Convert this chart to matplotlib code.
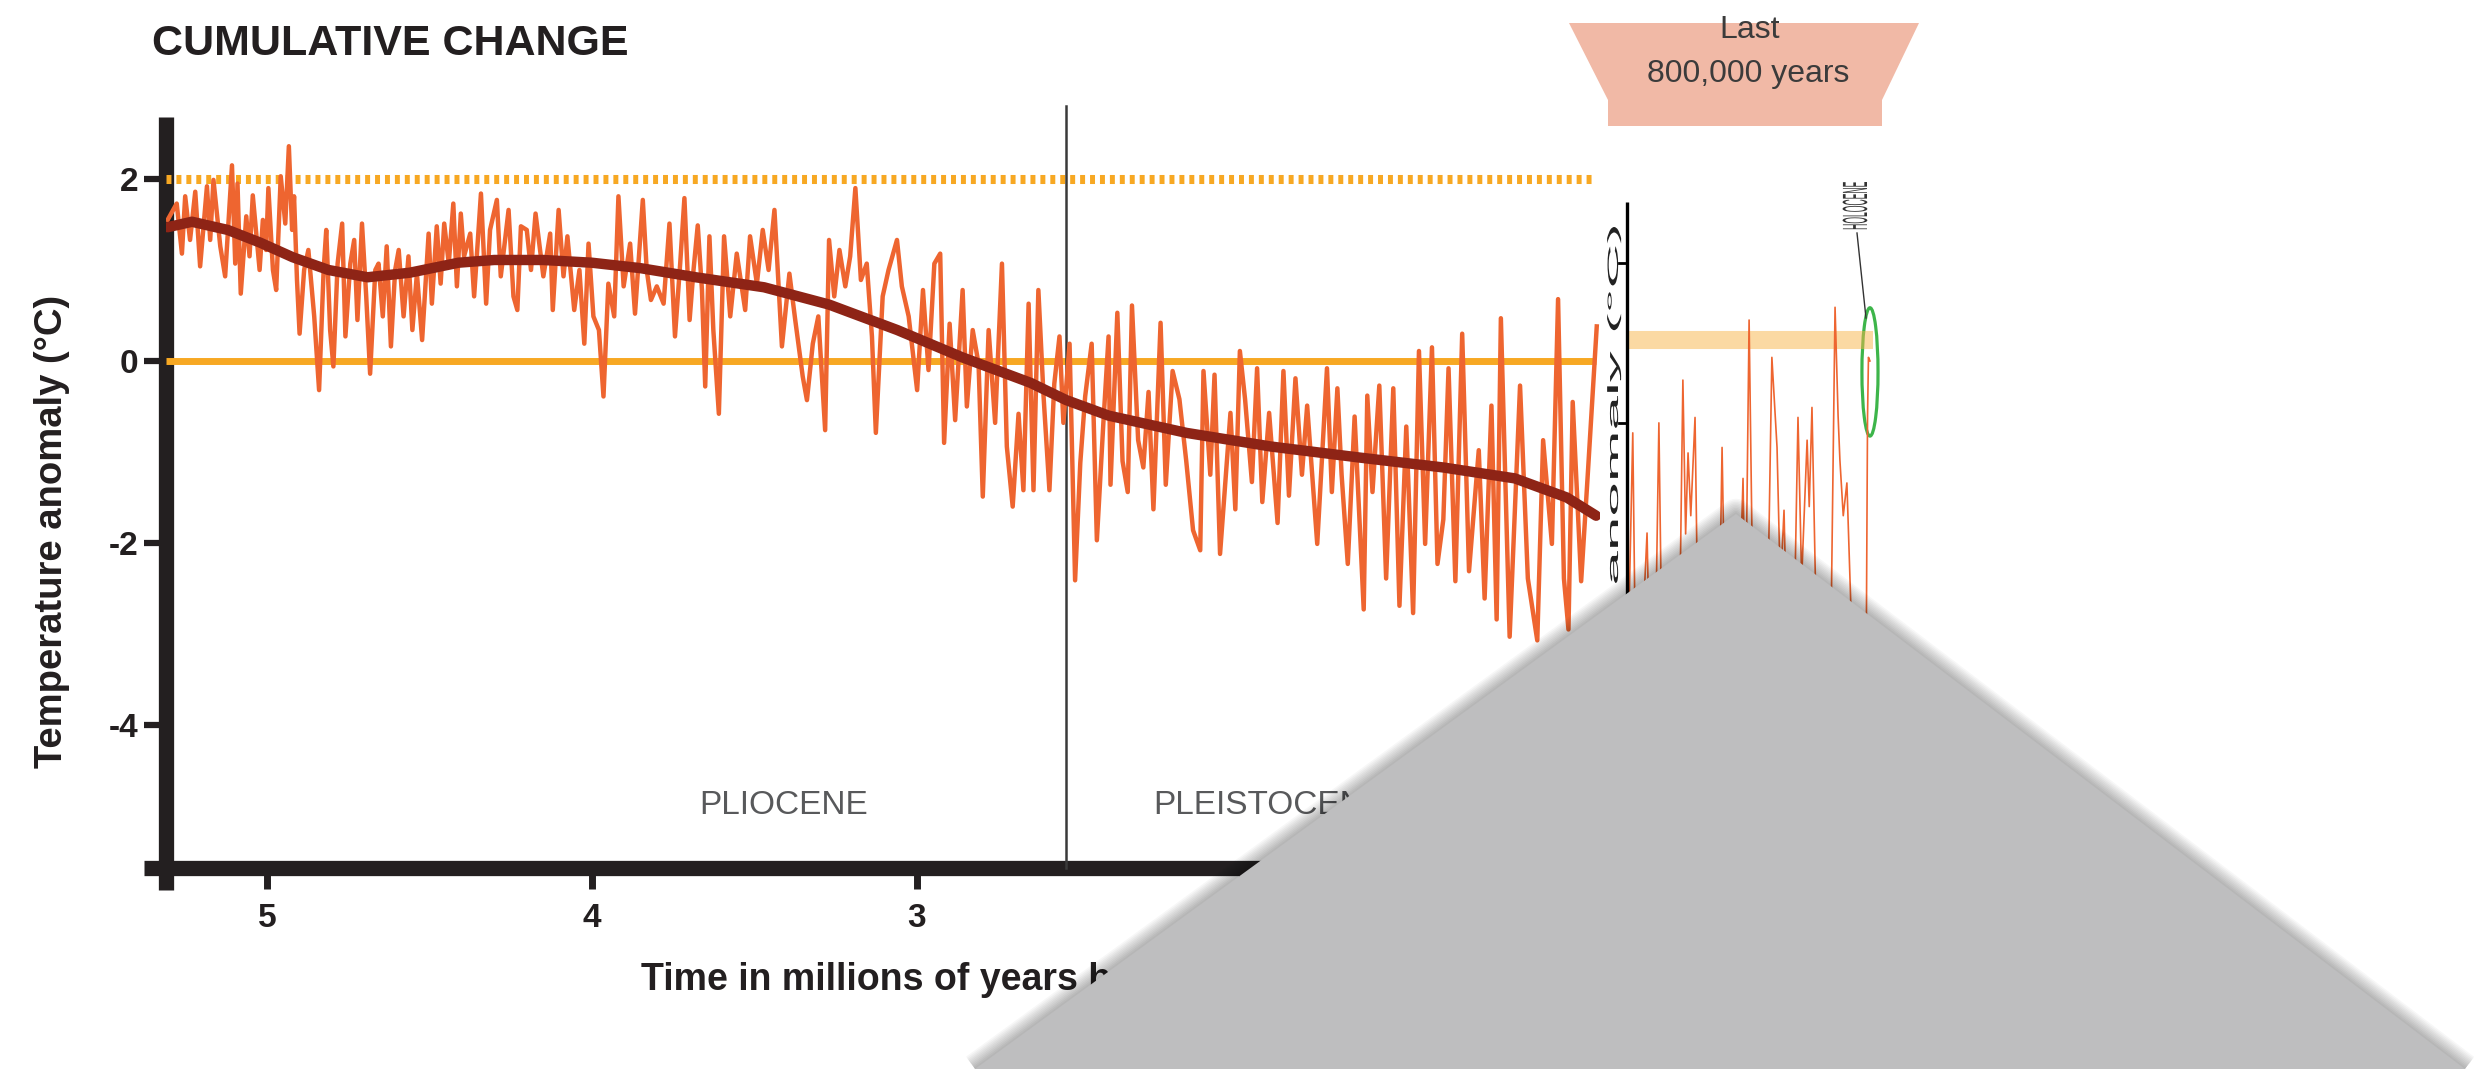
import matplotlib
matplotlib.use("Agg")
import matplotlib.pyplot as plt
from matplotlib.lines import Line2D
from matplotlib.patches import Polygon, Ellipse, PathPatch, Rectangle
from matplotlib.textpath import TextPath
from matplotlib.font_manager import FontProperties
from matplotlib.transforms import Affine2D

plt.rcParams['font.family'] = ['Liberation Sans', 'DejaVu Sans']
plt.rcParams['axes.unicode_minus'] = False

# ---- values ----
# noisy record, early Pliocene part (age in Myr, anomaly in degC)
age_early = [5.305, 5.277, 5.261, 5.251, 5.236, 5.220, 5.205, 5.184, 5.174, 5.164,
             5.143, 5.128, 5.107, 5.097, 5.090, 5.080, 5.063, 5.053, 5.043, 5.022,
             5.012, 5.002, 4.995, 4.981, 4.971, 4.957, 4.943, 4.932, 4.922, 4.916,
             4.907, 4.899, 4.885, 4.872, 4.854, 4.839, 4.825, 4.817, 4.805, 4.795,
             4.782, 4.768, 4.758, 4.743, 4.731, 4.721, 4.707, 4.694, 4.682, 4.666,
             4.656, 4.643, 4.631, 4.618, 4.605, 4.594, 4.579, 4.564, 4.552, 4.538,
             4.522, 4.502, 4.492, 4.477, 4.465, 4.454, 4.440, 4.426, 4.415, 4.403,
             4.393, 4.374, 4.362, 4.341, 4.325, 4.313, 4.292, 4.280, 4.256, 4.241,
             4.229, 4.218, 4.200, 4.187, 4.173, 4.149, 4.128, 4.120, 4.102, 4.087,
             4.075, 4.054, 4.038, 4.023, 4.010, 3.995, 3.978, 3.964, 3.949, 3.931,
             3.918, 3.902]
temp_early = [1.55, 1.73, 1.18, 1.81, 1.33, 1.86, 1.04, 1.92, 1.33, 1.99,
              1.26, 0.93, 2.15, 1.07, 1.95, 0.74, 1.59, 1.15, 1.82, 1.00,
              1.55, 1.22, 1.90, 1.00, 0.78, 2.03, 1.51, 2.36, 1.44, 1.81,
              0.89, 0.30, 1.00, 1.22, 0.49, -0.32, 1.00, 1.44, 0.34, -0.06,
              1.07, 1.51, 0.27, 1.07, 1.33, 0.45, 1.51, 0.71, -0.14, 1.00,
              1.07, 0.49, 1.26, 0.16, 1.00, 1.22, 0.49, 1.15, 0.34, 0.96,
              0.23, 1.40, 0.63, 1.48, 0.85, 1.51, 1.07, 1.73, 0.82, 1.62,
              1.15, 1.40, 0.71, 1.84, 0.63, 1.44, 1.77, 0.93, 1.66, 0.71,
              0.56, 1.48, 1.44, 1.00, 1.62, 0.93, 1.40, 0.56, 1.66, 0.93,
              1.37, 0.56, 1.00, 0.19, 1.29, 0.49, 0.34, -0.39, 0.85, 0.49,
              1.81, 0.82]
# late Pliocene to the epoch boundary
age_mid = [3.882, 3.867, 3.843, 3.831, 3.818, 3.800, 3.779, 3.761, 3.744, 3.728,
           3.715, 3.699, 3.687, 3.674, 3.661, 3.651, 3.638, 3.626, 3.609, 3.593,
           3.574, 3.554, 3.528, 3.513, 3.492, 3.474, 3.456, 3.438, 3.415, 3.392,
           3.374, 3.351, 3.338, 3.320, 3.303, 3.282, 3.270, 3.254, 3.238, 3.220,
           3.205, 3.189, 3.172, 3.154, 3.138, 3.126, 3.105, 3.087, 3.061, 3.046,
           3.025, 2.999, 2.981, 2.964, 2.946, 2.928, 2.916, 2.899, 2.882, 2.859,
           2.846, 2.828, 2.810, 2.797, 2.779, 2.759, 2.738, 2.723, 2.705, 2.687,
           2.672, 2.656, 2.641, 2.626, 2.610, 2.592, 2.577, 2.561, 2.549, 2.530,
           2.513, 2.497, 2.482, 2.462, 2.446, 2.426, 2.410]
temp_mid = [1.29, 0.52, 1.77, 1.00, 0.67, 0.82, 0.63, 1.51, 0.27, 1.07,
            1.79, 0.45, 1.00, 1.49, 0.78, -0.28, 1.37, 0.34, -0.58, 1.37,
            0.49, 1.18, 0.56, 1.37, 0.85, 1.44, 1.00, 1.66, 0.16, 0.96,
            0.45, -0.17, -0.43, 0.19, 0.49, -0.76, 1.33, 0.71, 1.22, 0.82,
            1.15, 1.90, 0.89, 1.07, 0.27, -0.79, 0.71, 1.00, 1.33, 0.82,
            0.49, -0.32, 0.78, -0.10, 1.07, 1.18, -0.90, 0.41, -0.65, 0.78,
            -0.50, 0.34, -0.03, -1.49, 0.34, -0.68, 1.07, -0.94, -1.60, -0.58,
            -1.42, 0.63, -1.42, 0.78, -0.39, -1.42, -0.25, 0.27, -0.68, 0.19,
            -2.41, -1.12, -0.39, 0.19, -1.97, -0.68, 0.27]
# Pleistocene part
age_late = [2.404, 2.383, 2.367, 2.351, 2.338, 2.319, 2.303, 2.287, 2.272, 2.250,
            2.234, 2.213, 2.192, 2.171, 2.150, 2.128, 2.118, 2.097, 2.084, 2.067,
            2.049, 2.035, 2.020, 2.006, 1.990, 1.969, 1.953, 1.937, 1.916, 1.890,
            1.872, 1.855, 1.835, 1.815, 1.799, 1.768, 1.738, 1.723, 1.706, 1.693,
            1.674, 1.653, 1.625, 1.614, 1.598, 1.577, 1.556, 1.534, 1.515, 1.494,
            1.473, 1.455, 1.436, 1.415, 1.398, 1.380, 1.364, 1.343, 1.322, 1.301,
            1.271, 1.253, 1.232, 1.216, 1.203, 1.176, 1.144, 1.120, 1.091, 1.073,
            1.046, 1.027, 1.009, 0.995, 0.982, 0.956, 0.935, 0.908]
temp_late = [-1.36, 0.53, -1.10, -1.44, 0.61, -0.87, -1.17, -0.34, -1.63, 0.42,
             -1.36, -0.11, -0.42, -1.10, -1.86, -2.08, -0.11, -1.25, -0.15, -2.12,
             -1.25, -0.57, -1.63, 0.11, -0.42, -1.33, -0.08, -1.55, -0.57, -1.78,
             -0.11, -1.48, -0.19, -1.25, -0.49, -2.01, -0.08, -1.44, -0.30, -1.25,
             -2.23, -0.61, -2.73, -0.38, -1.44, -0.27, -2.39, -0.30, -2.69, -0.72,
             -2.77, 0.11, -2.01, 0.15, -2.23, -1.74, -0.08, -2.42, 0.30, -2.31,
             -0.98, -2.61, -0.49, -2.84, 0.47, -3.03, -0.27, -2.39, -3.07, -0.87,
             -2.01, 0.68, -2.39, -2.95, -0.45, -2.42, -1.21, 0.38]

# smoothed trend
smooth_age = [5.305, 5.23, 5.12, 5.02, 4.92, 4.81, 4.69, 4.56, 4.41, 4.30,
              4.15, 4.00, 3.85, 3.68, 3.47, 3.27, 3.06, 2.86, 2.65, 2.54,
              2.41, 2.17, 1.91, 1.64, 1.38, 1.16, 1.00, 0.91]
smooth_temp = [1.47, 1.53, 1.44, 1.30, 1.14, 1.00, 0.92, 0.97, 1.08, 1.11,
               1.11, 1.08, 1.02, 0.92, 0.81, 0.62, 0.34, 0.04, -0.24, -0.43,
               -0.60, -0.79, -0.94, -1.06, -1.17, -1.29, -1.50, -1.70]

# last 800,000 years (kyr before present)
inset_ka = [800, 781, 770, 752, 734, 722, 708, 695, 685, 670,
            650, 630, 616, 607, 599, 590, 576, 565, 545, 520,
            500, 487, 475, 455, 435, 418, 410, 398, 385, 365,
            340, 323, 306, 295, 283, 270, 250, 237, 225, 207,
            200, 191, 175, 150, 130, 115, 105, 99, 88, 76,
            60, 40, 20, 12, 8, 5, 0]
inset_temp = [-3.8, -0.79, -3.9, -3.2, -1.89, -3.9, -3.5, -0.68, -3.2, -3.9,
              -3.4, -3.7, -0.21, -1.9, -1.01, -1.7, -0.62, -3.3, -3.9, -3.1,
              -3.7, -0.95, -3.3, -4.0, -3.3, -1.29, -3.0, 0.45, -2.8, -3.9,
              -3.4, 0.04, -0.95, -2.5, -1.64, -3.6, -3.0, -0.62, -2.4, -0.87,
              -1.6, -0.51, -3.2, -3.9, -3.4, 0.59, -0.6, -1.09, -1.7, -1.34,
              -3.0, -3.8, -4.2, -3.0, -0.6, 0.04, 0.0]
inset_band_level = 0.23

x_ticks = [5, 4, 3, 2, 1]
y_ticks = [2, 0, -2, -4]
y_tick_labels = ['2', '0', '-2', '-4']
epoch_boundary = 2.54
record_start, record_end = 5.31, 0.91
dotted_level = 2.0
zero_level = 0.0

# ---- styling ----
W, H = 2484, 1080
INK = '#231f20'
ORANGE = '#f7a823'
RED_LINE = '#ee6530'
DARK_RED = '#8e2416'


def fx(px):
    return px / W


def fy(py):
    return 1 - py / H


fig = plt.figure(figsize=(W / 100, H / 100), dpi=100)


def upright_text(s, x_base, y_top, sx, sy, color, weight='normal'):
    # vertical text reading upward, stretched like the squeezed inset in the picture
    fp = FontProperties(family='Liberation Sans', weight=weight)
    tp = TextPath((0, 0), s, size=1, prop=fp)
    ext = tp.get_extents()
    length = ext.width * sx
    tr = (Affine2D().translate(-ext.x0, 0).scale(sx, sy).rotate_deg(90)
          .translate(x_base, H - y_top - length))
    fig.add_artist(PathPatch(tp, transform=tr, fc=color, ec='none', zorder=5))


# ---- main panel ----
ax = fig.add_axes([fx(166), fy(868), (1600 - 166) / W, (868 - 117) / H])
ax.set_xlim(5.31, 0.898)
ax.set_ylim(-5.571, 2.681)
ax.patch.set_alpha(0)
for sp in ax.spines.values():
    sp.set_visible(False)

ax.set_xticks(x_ticks)
ax.set_xticklabels([str(t) for t in x_ticks])
ax.set_yticks(y_ticks)
ax.set_yticklabels(y_tick_labels)
ax.tick_params(axis='y', direction='out', length=15.5, width=4.5, pad=4.5,
               labelsize=24, colors=INK)
ax.tick_params(axis='x', direction='out', length=15, width=5, pad=10,
               labelsize=24, colors=INK)
for t in ax.get_xticklabels() + ax.get_yticklabels():
    t.set_fontweight('bold')

# heavy axis bars that cross at the corner
ax.add_line(Line2D([0, 0], [-0.0293, 1.0], transform=ax.transAxes, lw=11,
                   color=INK, solid_capstyle='butt', clip_on=False))
ax.add_line(Line2D([-0.0153, 1.0], [0, 0], transform=ax.transAxes, lw=11,
                   color=INK, solid_capstyle='butt', clip_on=False))

ax.plot([record_start, record_end], [dotted_level, dotted_level], color=ORANGE,
        lw=6.5, linestyle=(0, (0.55, 0.55)), dash_capstyle='butt', zorder=2)
ax.plot([record_start, record_end], [zero_level, zero_level], color=ORANGE,
        lw=5, solid_capstyle='butt', zorder=2)
ax.plot([epoch_boundary, epoch_boundary], [-5.571, 2.80], color='#3a3a3a', lw=1.8,
        clip_on=False, zorder=2)

ax.plot(age_early + age_mid + age_late, temp_early + temp_mid + temp_late,
        color=RED_LINE, lw=3.2, zorder=3)
ax.plot(smooth_age, smooth_temp, color=DARK_RED, lw=7.5, solid_capstyle='round',
        zorder=4)

fig.text(fx(152), fy(44), 'CUMULATIVE CHANGE', fontsize=31, fontweight='bold',
         color=INK, ha='left', va='center')
fig.text(fx(52), fy(531), 'Temperature anomaly (°C)', fontsize=27.5,
         fontweight='bold', color=INK, rotation=90, ha='center', va='center')
fig.text(fx(641), fy(990), 'Time in millions of years before present', fontsize=27,
         fontweight='bold', color=INK, ha='left', va='baseline')
fig.text(fx(699), fy(806), 'PLIOCENE', fontsize=24, color='#58595b',
         ha='left', va='center')
fig.text(fx(1153), fy(806), 'PLEISTOCENE', fontsize=24, color='#58595b',
         ha='left', va='center')

# ---- last 800,000 years panel ----
axi = fig.add_axes([fx(1627), fy(868), 253 / W, (868 - 117) / H])
axi.set_xlim(800, -33)
axi.set_ylim(-5.571, 2.681)
axi.axis('off')
axi.plot([800, -10], [inset_band_level, inset_band_level], color='#f8b449', lw=13,
         alpha=0.5, solid_capstyle='butt')
axi.plot(inset_ka, inset_temp, color=RED_LINE, lw=1.2)
axi.plot([800, 800], [-5.571, 1.75], color='black', lw=2.4, solid_capstyle='butt',
         clip_on=False)
axi.add_patch(Ellipse((0, -0.12), 53, 1.41, fill=False, ec='#3db54a', lw=2.3))

for ty in (263, 423):
    fig.add_artist(Line2D([fx(1619), fx(1627)], [fy(ty), fy(ty)],
                          transform=fig.transFigure, color='black', lw=2))
upright_text('Temperature anomaly (°C)', 1618, 227, 62, 15, '#222222')
upright_text('HOLOCENE', 1867, 182, 8.6, 35, '#333333')
fig.add_artist(Line2D([fx(1857), fx(1866)], [fy(233), fy(318)],
                      transform=fig.transFigure, color='#333333', lw=1))

box = [(1569, 23), (1919, 23), (1882, 100), (1882, 126), (1608, 126), (1608, 100)]
fig.add_artist(Polygon([(fx(x), fy(y)) for x, y in box], closed=True,
                       transform=fig.transFigure, fc='#f1b9a6', ec='none', zorder=1))
fig.text(fx(1750), fy(30), 'Last', fontsize=23, color='#3b3b3b', ha='center',
         va='center', zorder=2)
fig.text(fx(1748), fy(74), '800,000 years', fontsize=23, color='#3b3b3b',
         ha='center', va='center', zorder=2)

# ---- grey folded corner covering the lower right ----
tri = [(975, 1069), (1736, 514), (2465, 1069)]
for k in range(1, 11):
    fig.add_artist(Line2D([fx(x) for x, _ in tri], [fy(y) for _, y in tri],
                          transform=fig.transFigure, color='black', lw=2.2 * k,
                          alpha=0.03, solid_joinstyle='round',
                          solid_capstyle='butt', zorder=9))
fig.add_artist(Rectangle((0, 0), 1, 11 / H, transform=fig.transFigure,
                         fc='white', ec='none', zorder=9.5))
fig.add_artist(Polygon([(fx(x), fy(y)) for x, y in tri], closed=True,
                       transform=fig.transFigure, fc='#bebebf', ec='none', zorder=10))

fig.savefig('out.png', dpi=100)
